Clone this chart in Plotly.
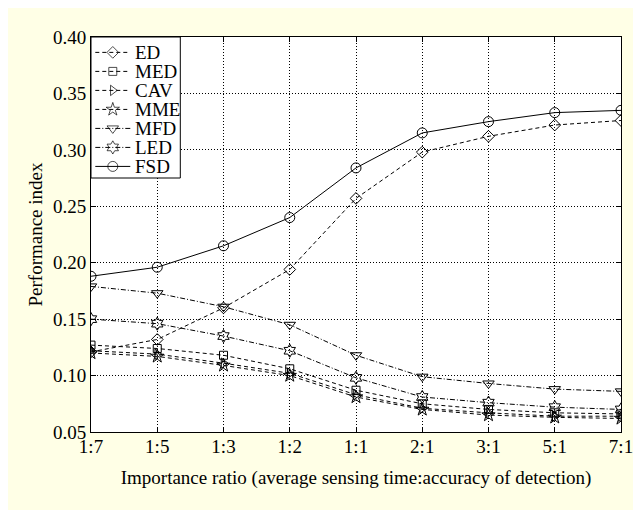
import plotly.graph_objects as go

ratios = ["1:7", "1:5", "1:3", "1:2", "1:1", "2:1", "3:1", "5:1", "7:1"]

ed  = [0.121, 0.132, 0.160, 0.194, 0.257, 0.298, 0.312, 0.322, 0.326]
med = [0.127, 0.124, 0.118, 0.106, 0.087, 0.075, 0.070, 0.067, 0.066]
cav = [0.122, 0.119, 0.111, 0.102, 0.083, 0.071, 0.067, 0.064, 0.064]
mme = [0.120, 0.117, 0.109, 0.100, 0.081, 0.070, 0.065, 0.063, 0.062]
mfd = [0.179, 0.173, 0.161, 0.145, 0.118, 0.099, 0.093, 0.088, 0.086]
led = [0.150, 0.146, 0.135, 0.122, 0.098, 0.081, 0.076, 0.072, 0.070]
fsd = [0.188, 0.196, 0.215, 0.240, 0.284, 0.315, 0.325, 0.333, 0.335]

names = ["ED", "MED", "CAV", "MME", "MFD", "LED", "FSD"]
values = [ed, med, cav, mme, mfd, led, fsd]
symbols = ["diamond-open", "square-open", "triangle-right-open", "star-open",
           "triangle-down-open", "hexagram-open", "circle-open"]
dashes = ["4px,3px", "4px,3px", "4px,3px", "4px,3px",
          "5px,2px,1px,2px", "5px,2px,1px,2px", "solid"]
msizes = [9, 8, 9, 10, 10, 10, 10]

# legend-sample geometry (fractions of the inset legend axis)
LEG_X = [0.048, 0.244, 0.44]
LEG_TEXT_X = 0.47
LEG_YRANGE = [6.61, -0.81]

FONT = "Liberation Serif"
BG = "#FFFFE6"

fig = go.Figure()
for name, vals, sym, dash, ms in zip(names, values, symbols, dashes, msizes):
    fig.add_trace(go.Scatter(
        x=ratios, y=vals, name=name, mode="lines+markers", showlegend=False,
        line=dict(color="black", width=1, dash=dash),
        marker=dict(symbol=sym, size=ms, color="black", line=dict(width=1, color="black")),
        xaxis="x", yaxis="y",
    ))

# custom legend drawn on an inset axis
annotations = []
for i, (name, sym, dash, ms) in enumerate(zip(names, symbols, dashes, msizes)):
    fig.add_trace(go.Scatter(
        x=LEG_X, y=[i] * len(LEG_X), mode="lines+markers", showlegend=False,
        hoverinfo="skip",
        line=dict(color="black", width=1, dash=dash),
        marker=dict(symbol=sym, size=[0, ms, 0], color="black",
                    line=dict(width=1, color="black")),
        xaxis="x2", yaxis="y2",
    ))
    annotations.append(dict(
        x=LEG_TEXT_X, y=i, xref="x2", yref="y2", text=name, showarrow=False,
        xanchor="left", yanchor="middle",
        font=dict(family=FONT, size=19, color="black"),
    ))

axis_common = dict(
    showline=True, linecolor="black", linewidth=1, mirror="ticks",
    ticks="inside", ticklen=5, tickcolor="black",
    showgrid=True, gridcolor="black", gridwidth=1, griddash="1px,2px",
    zeroline=False, automargin=False, tickfont=dict(size=19),
)

fig.update_layout(
    width=641, height=510,
    margin=dict(l=83, r=28, t=29, b=86),
    paper_bgcolor=BG,
    plot_bgcolor="white",
    font=dict(family=FONT, size=19, color="black"),
    showlegend=False,
    annotations=annotations,
    xaxis=dict(
        type="category", categoryorder="array", categoryarray=ratios, range=[0, 8],
        ticklabelstandoff=-3,
        title=dict(text="Importance ratio (average sensing time:accuracy of detection)",
                   font=dict(size=19), standoff=14),
        **axis_common,
    ),
    yaxis=dict(
        range=[0.05, 0.40], dtick=0.05, tick0=0.05, tickformat=".2f",
        title=dict(text="Performance index", font=dict(size=19), standoff=5),
        **axis_common,
    ),
    xaxis2=dict(domain=[0, 0.1685], range=[0, 1], anchor="y2", visible=False,
                fixedrange=True),
    yaxis2=dict(domain=[0.643, 1], range=LEG_YRANGE, anchor="x2", visible=False,
                fixedrange=True),
    shapes=[
        dict(type="rect", xref="x2", yref="y2", x0=0, x1=1,
             y0=LEG_YRANGE[1], y1=LEG_YRANGE[0],
             fillcolor="white", line=dict(width=0), layer="between"),
        dict(type="rect", xref="x2 domain", yref="y2 domain", x0=0, x1=1, y0=0, y1=1,
             fillcolor="rgba(0,0,0,0)", line=dict(width=1, color="black"), layer="above"),
    ],
)

fig.write_html("out.html")
